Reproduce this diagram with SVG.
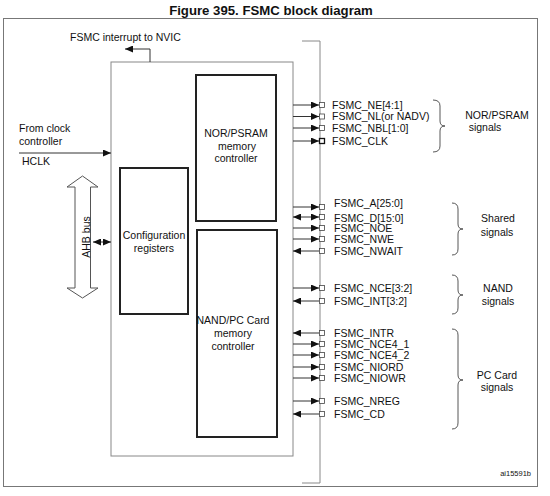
<svg xmlns="http://www.w3.org/2000/svg" width="550" height="496" viewBox="0 0 550 496">
<defs>
<style>
text{font-family:"Liberation Sans",Arial,sans-serif;font-size:10.5px;fill:#111}
.c{text-anchor:middle}
.title{font-size:13.2px;font-weight:bold;text-anchor:middle}
.frame{fill:none;stroke:#777;stroke-width:1}
.gray{fill:none;stroke:#888;stroke-width:1}
.blk{fill:#fff;stroke:#222;stroke-width:2}
.sig{stroke:#333;stroke-width:1;fill:none}
.sq{fill:#fff;stroke:#444;stroke-width:0.8}
.brace{fill:none;stroke:#444;stroke-width:0.9}
</style>
<marker id="ah" markerWidth="8" markerHeight="7" refX="8" refY="3.5" orient="auto-start-reverse" markerUnits="userSpaceOnUse"><path d="M0,0 L8,3.5 L0,7 z" fill="#111"/></marker>
</defs>
<rect width="550" height="496" fill="#fff"/>
<text class="title" x="271" y="14.5">Figure 395. FSMC block diagram</text>
<rect class="frame" x="3.5" y="18.5" width="534" height="468"/>

<g id="fsmc">
<rect class="gray" x="111" y="62" width="182" height="394" fill="#fff"/>
</g>
<g id="nor_ctrl">
<rect class="blk" x="196" y="75" width="80" height="146"/>
<text class="c" x="236" y="137">NOR/PSRAM</text>
<text class="c" x="237" y="150">memory</text>
<text class="c" x="236" y="162">controller</text>
</g>
<g id="config">
<rect class="blk" x="120" y="168" width="68" height="146"/>
<text class="c" x="154" y="239">Configuration</text>
<text class="c" x="154" y="252">registers</text>
</g>
<g id="nand_ctrl">
<rect class="blk" x="197" y="230" width="80" height="207"/>
<text class="c" x="233" y="324">NAND/PC Card</text>
<text class="c" x="233" y="337">memory</text>
<text class="c" x="233" y="350">controller</text>
</g>
<g id="ahb">
<polygon points="82.5,176 98,187 90.5,187 90.5,288 98,288 82.5,298 67,288 75,288 75,187 67,187" fill="#fff" stroke="#555" stroke-width="1"/>
<text class="c" transform="translate(86.5,237) rotate(-90)" y="3.7">AHB bus</text>
</g>
<g id="labels">
<text x="70" y="41">FSMC interrupt to NVIC</text>
<text x="19" y="132">From clock</text>
<text x="19" y="145">controller</text>
<text x="22" y="165">HCLK</text>
<text x="332" y="109">FSMC_NE[4:1]</text>
<text x="332" y="120">FSMC_NL(or NADV)</text>
<text x="332" y="132">FSMC_NBL[1:0]</text>
<text x="332" y="145">FSMC_CLK</text>
<text x="334" y="207">FSMC_A[25:0]</text>
<text x="334" y="221.5">FSMC_D[15:0]</text>
<text x="334" y="232">FSMC_NOE</text>
<text x="334" y="243">FSMC_NWE</text>
<text x="334" y="255">FSMC_NWAIT</text>
<text x="334" y="292">FSMC_NCE[3:2]</text>
<text x="334" y="305">FSMC_INT[3:2]</text>
<text x="334" y="337">FSMC_INTR</text>
<text x="334" y="348">FSMC_NCE4_1</text>
<text x="334" y="359">FSMC_NCE4_2</text>
<text x="334" y="371">FSMC_NIORD</text>
<text x="334" y="382">FSMC_NIOWR</text>
<text x="334" y="405">FSMC_NREG</text>
<text x="334" y="418">FSMC_CD</text>
<text class="c" x="497" y="119">NOR/PSRAM</text>
<text class="c" x="485" y="131">signals</text>
<text class="c" x="498" y="222">Shared</text>
<text class="c" x="497" y="236">signals</text>
<text class="c" x="498" y="292">NAND</text>
<text class="c" x="498" y="305">signals</text>
<text class="c" x="497" y="379">PC Card</text>
<text class="c" x="497" y="391">signals</text>
<text x="531" y="476" style="font-size:7.5px;text-anchor:end">ai15591b</text>
</g>
<g id="connectors">
<path class="sig" d="M150,62 V49 H125" marker-end="url(#ah)"/>
<line class="sig" x1="19" y1="153" x2="111" y2="153" marker-end="url(#ah)"/>
<line class="sig" x1="93" y1="242" x2="111" y2="242" marker-start="url(#ah)" marker-end="url(#ah)"/>
<path class="gray" d="M302,41 H320 V483 H302"/>
<line class="sig" x1="293" y1="105" x2="319" y2="105" marker-end="url(#ah)"/>
<line class="sig" x1="293" y1="116.5" x2="319" y2="116.5" marker-end="url(#ah)"/>
<line class="sig" x1="293" y1="128" x2="319" y2="128" marker-end="url(#ah)"/>
<line class="sig" x1="293" y1="141" x2="319" y2="141" marker-end="url(#ah)"/>
<line class="sig" x1="293" y1="207" x2="319" y2="207" marker-end="url(#ah)"/>
<line class="sig" x1="293" y1="217" x2="319" y2="217" marker-start="url(#ah)" marker-end="url(#ah)"/>
<line class="sig" x1="293" y1="228" x2="319" y2="228" marker-end="url(#ah)"/>
<line class="sig" x1="293" y1="239" x2="319" y2="239" marker-end="url(#ah)"/>
<line class="sig" x1="319" y1="251" x2="293" y2="251" marker-end="url(#ah)"/>
<line class="sig" x1="293" y1="288" x2="319" y2="288" marker-end="url(#ah)"/>
<line class="sig" x1="319" y1="301" x2="293" y2="301" marker-end="url(#ah)"/>
<line class="sig" x1="319" y1="333" x2="293" y2="333" marker-end="url(#ah)"/>
<line class="sig" x1="293" y1="344" x2="319" y2="344" marker-end="url(#ah)"/>
<line class="sig" x1="293" y1="355" x2="319" y2="355" marker-end="url(#ah)"/>
<line class="sig" x1="293" y1="367" x2="319" y2="367" marker-end="url(#ah)"/>
<line class="sig" x1="293" y1="378" x2="319" y2="378" marker-end="url(#ah)"/>
<line class="sig" x1="293" y1="401" x2="319" y2="401" marker-end="url(#ah)"/>
<line class="sig" x1="319" y1="414" x2="293" y2="414" marker-end="url(#ah)"/>
<g>
<rect class="sq" x="319.5" y="102.5" width="5" height="5"/>
<rect class="sq" x="319.5" y="114" width="5" height="5"/>
<rect class="sq" x="319.5" y="125.5" width="5" height="5"/>
<rect class="sq" x="319.5" y="138.5" width="5" height="5" style="stroke:#111;stroke-width:1.3"/>
<rect class="sq" x="319.5" y="204.5" width="5" height="5"/>
<rect class="sq" x="319.5" y="214.5" width="5" height="5"/>
<rect class="sq" x="319.5" y="225.5" width="5" height="5"/>
<rect class="sq" x="319.5" y="236.5" width="5" height="5"/>
<rect class="sq" x="319.5" y="248.5" width="5" height="5"/>
<rect class="sq" x="319.5" y="285.5" width="5" height="5"/>
<rect class="sq" x="319.5" y="298.5" width="5" height="5"/>
<rect class="sq" x="319.5" y="330.5" width="5" height="5"/>
<rect class="sq" x="319.5" y="341.5" width="5" height="5"/>
<rect class="sq" x="319.5" y="352.5" width="5" height="5"/>
<rect class="sq" x="319.5" y="364.5" width="5" height="5"/>
<rect class="sq" x="319.5" y="375.5" width="5" height="5"/>
<rect class="sq" x="319.5" y="398.5" width="5" height="5"/>
<rect class="sq" x="319.5" y="411.5" width="5" height="5"/>
</g>
</g>
<g id="braces">
<path class="brace" d="M433,100 Q440,100 440,106 L440,121 Q440,126 445,126 Q440,126 440,131 L440,146 Q440,152 433,152"/>
<path class="brace" d="M452,203 Q458,203 458,209 L458,224 Q458,229 463,229 Q458,229 458,234 L458,249 Q458,255 452,255"/>
<path class="brace" d="M452,275 Q458,275 458,281 L458,290 Q458,295 463,295 Q458,295 458,300 L458,308 Q458,314 452,314"/>
<path class="brace" d="M452,329 Q458,329 458,335 L458,375 Q458,380 463,380 Q458,380 458,385 L458,423 Q458,429 452,429"/>
</g>
</svg>
